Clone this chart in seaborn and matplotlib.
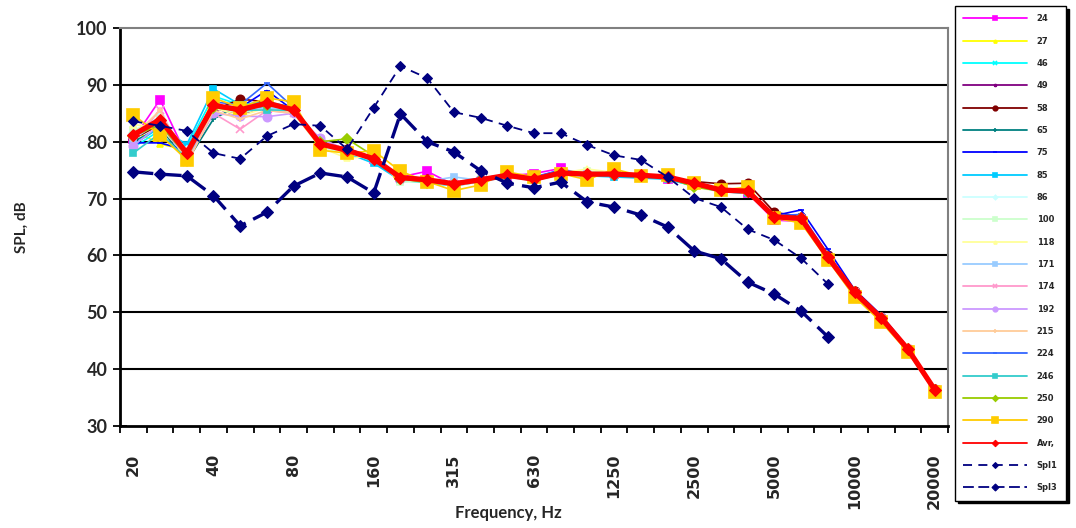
import matplotlib
matplotlib.use("Agg")
import matplotlib.pyplot as plt
import seaborn as sns
import numpy as np

freqs = ["20", "25", "31.5", "40", "50", "63", "80", "100", "125", "160", "200", "250",
         "315", "400", "500", "630", "800", "1000", "1250", "1600", "2000", "2500",
         "3150", "4000", "5000", "6300", "8000", "10000", "12500", "16000", "20000"]

s24 = [80.5, 87.4, 77.5, 86.0, 85.0, 86.0, 85.5, 79.5, 78.0, 77.0, 73.8, 74.8, 72.4, 73.0, 74.0, 74.4, 75.3, 74.0, 74.5, 74.0, 73.5, 72.5, 71.3, 71.0, 66.2, 66.0, 59.5, 53.2, 48.8, 43.4, 36.3]
s27 = [82.0, 79.6, 78.5, 86.5, 84.5, 86.5, 85.5, 79.0, 78.0, 77.5, 73.5, 73.0, 72.8, 73.5, 74.0, 73.2, 74.6, 74.5, 74.0, 74.0, 73.6, 72.4, 71.4, 71.0, 66.6, 66.4, 59.6, 53.4, 48.9, 43.6, 36.5]
s46 = [79.0, 82.0, 79.0, 88.0, 86.5, 87.0, 86.0, 80.0, 78.5, 76.5, 73.2, 72.8, 72.5, 73.0, 74.0, 73.4, 74.3, 74.0, 74.0, 73.8, 73.5, 72.2, 71.2, 71.0, 66.8, 66.6, 59.8, 53.6, 49.1, 43.5, 36.4]
s49 = [81.0, 84.0, 77.5, 86.0, 84.5, 86.5, 85.5, 79.5, 78.0, 77.0, 73.8, 73.3, 72.5, 73.3, 74.0, 73.6, 74.6, 74.2, 74.3, 74.1, 73.9, 72.6, 71.8, 71.4, 67.0, 66.7, 59.8, 53.6, 49.0, 43.6, 36.4]
s58 = [80.5, 83.0, 78.5, 85.5, 87.5, 87.0, 85.5, 79.8, 78.8, 77.2, 73.6, 73.4, 72.6, 73.4, 74.1, 73.5, 74.4, 74.4, 74.2, 74.0, 73.7, 73.0, 72.6, 72.7, 67.6, 66.8, 60.0, 53.8, 49.2, 43.6, 36.5]
s65 = [80.0, 82.5, 76.5, 84.0, 86.5, 86.0, 85.0, 80.0, 78.5, 76.8, 73.5, 73.0, 72.4, 73.2, 74.0, 73.3, 74.5, 74.2, 74.2, 74.0, 73.7, 72.5, 71.4, 71.2, 66.7, 66.4, 59.7, 53.4, 48.9, 43.5, 36.4]
s75 = [79.8, 79.8, 78.5, 86.5, 86.0, 89.0, 85.5, 79.5, 78.2, 77.0, 73.8, 73.4, 72.8, 73.6, 74.2, 73.7, 75.0, 74.5, 74.3, 74.1, 73.8, 72.8, 71.6, 71.5, 67.0, 68.0, 61.1, 54.0, 49.5, 43.8, 36.6]
s85 = [79.5, 82.5, 79.5, 89.3, 86.5, 87.0, 86.0, 79.8, 78.0, 76.2, 73.2, 72.8, 72.2, 73.0, 73.8, 73.2, 74.2, 74.0, 73.8, 73.6, 73.4, 72.2, 71.2, 71.0, 66.6, 66.3, 59.6, 53.3, 48.9, 43.4, 36.4]
s86 = [81.5, 84.5, 78.5, 86.5, 85.5, 86.5, 85.0, 79.0, 78.0, 77.0, 73.3, 73.0, 72.6, 73.2, 74.0, 73.4, 74.6, 74.8, 74.4, 74.2, 73.8, 72.6, 71.4, 71.2, 66.8, 66.5, 59.6, 53.4, 49.0, 43.5, 36.4]
s100 = [82.0, 84.0, 78.0, 86.0, 85.0, 86.0, 85.0, 79.2, 78.0, 77.2, 72.9, 73.0, 72.2, 73.0, 74.0, 73.6, 74.8, 74.8, 74.6, 74.2, 73.6, 72.4, 71.4, 71.1, 66.7, 66.5, 59.8, 53.5, 49.0, 43.5, 36.4]
s118 = [83.0, 82.5, 77.5, 86.0, 84.5, 86.0, 85.0, 79.0, 77.1, 77.5, 73.5, 73.2, 72.5, 73.4, 74.2, 73.8, 74.5, 75.2, 74.6, 74.3, 73.8, 72.0, 71.2, 71.2, 66.6, 66.3, 59.6, 53.4, 49.0, 43.5, 36.4]
s171 = [80.5, 83.5, 78.0, 86.0, 85.5, 86.0, 85.5, 79.5, 78.5, 77.0, 73.5, 73.0, 73.8, 73.2, 74.0, 73.4, 74.6, 74.3, 74.4, 74.1, 73.8, 72.6, 71.4, 71.2, 66.8, 66.5, 59.7, 53.5, 49.0, 43.5, 36.4]
s174 = [80.0, 85.6, 76.5, 85.0, 82.2, 85.5, 85.0, 80.5, 78.5, 77.0, 73.5, 73.2, 72.6, 73.3, 74.0, 73.4, 74.4, 74.2, 74.2, 74.0, 73.7, 72.6, 71.5, 71.3, 66.5, 66.4, 59.6, 53.4, 49.0, 43.5, 36.4]
s192 = [79.3, 83.0, 77.0, 85.0, 84.5, 84.4, 85.0, 80.6, 78.5, 77.0, 73.6, 73.2, 72.6, 73.4, 74.1, 73.4, 74.4, 74.3, 74.3, 74.1, 73.8, 72.7, 71.5, 71.3, 66.8, 66.6, 59.8, 53.5, 49.1, 43.5, 36.4]
s215 = [81.0, 85.5, 76.0, 85.5, 84.0, 85.5, 85.0, 79.5, 78.0, 77.0, 73.6, 73.2, 72.5, 73.3, 74.0, 73.4, 74.4, 74.2, 74.2, 74.0, 73.7, 72.6, 71.5, 71.3, 66.8, 66.5, 59.7, 53.5, 49.0, 43.5, 36.4]
s224 = [81.5, 83.0, 78.0, 87.0, 86.5, 90.3, 86.0, 79.5, 78.5, 77.0, 73.6, 73.3, 72.6, 73.4, 74.3, 73.8, 75.0, 74.3, 74.3, 74.1, 73.8, 72.7, 71.6, 71.4, 67.0, 67.2, 60.2, 53.8, 49.3, 43.7, 36.5]
s246 = [78.0, 81.5, 77.0, 86.5, 85.5, 85.6, 85.5, 79.5, 78.5, 77.0, 73.4, 73.0, 72.4, 73.2, 74.0, 73.4, 74.4, 74.2, 74.2, 74.0, 73.4, 72.2, 71.2, 71.0, 66.6, 66.4, 59.6, 53.4, 49.0, 43.5, 36.4]
s250 = [81.0, 83.0, 77.5, 86.0, 85.5, 86.5, 85.5, 80.0, 80.5, 77.5, 73.5, 72.8, 72.6, 73.2, 74.0, 73.4, 74.4, 74.2, 74.2, 74.0, 73.8, 72.0, 71.4, 71.2, 66.8, 66.5, 59.7, 53.5, 49.0, 43.5, 36.4]
s290 = [84.7, 81.2, 76.8, 87.7, 86.0, 87.7, 87.0, 78.5, 78.0, 78.4, 74.8, 73.0, 71.4, 72.4, 74.7, 73.8, 74.4, 73.3, 75.2, 74.0, 74.1, 72.7, 71.5, 72.0, 66.6, 65.7, 59.2, 52.7, 48.3, 43.0, 36.0]
avr = [81.2, 83.9, 78.0, 86.4, 85.6, 86.8, 85.6, 79.6, 78.5, 77.0, 73.7, 73.3, 72.6, 73.3, 74.1, 73.4, 74.5, 74.3, 74.3, 74.1, 73.8, 72.7, 71.5, 71.3, 66.8, 66.5, 59.7, 53.5, 49.0, 43.5, 36.4]
spl1 = [83.6, 82.8, 81.9, 78.0, 77.0, 81.0, 83.1, 82.8, 78.7, 86.0, 93.3, 91.2, 85.2, 84.2, 82.8, 81.5, 81.5, 79.4, 77.6, 76.8, 73.8, 70.1, 68.5, 64.6, 62.7, 59.5, 55.0]
spl3 = [74.7, 74.3, 74.0, 70.5, 65.2, 67.6, 72.2, 74.5, 73.8, 71.0, 84.9, 80.0, 78.2, 74.9, 72.7, 71.9, 72.9, 69.4, 68.5, 67.1, 65.0, 60.8, 59.4, 55.3, 53.2, 50.2, 45.7]

series_names = ["24", "27", "46", "49", "58", "65", "75", "85", "86", "100", "118",
                "171", "174", "192", "215", "224", "246", "250", "290"]
series_vals = [s24, s27, s46, s49, s58, s65, s75, s85, s86, s100, s118,
               s171, s174, s192, s215, s224, s246, s250, s290]
series_colors = ["#FF00FF", "#FFFF00", "#00FFFF", "#800080", "#800000", "#008080",
                 "#0000FF", "#00CCFF", "#CCFFFF", "#CCFFCC", "#FFFF99", "#99CCFF",
                 "#FF99CC", "#CC99FF", "#FFCC99", "#3366FF", "#33CCCC", "#99CC00", "#FFCC00"]
series_markers = ["s", "^", "x", "*", "o", "+", "_", "s", "D", "s", "^", "s",
                  "x", "o", "+", "_", "s", "D", "s"]
series_msize = [6, 4, 4, 4, 6, 4, 5, 5, 4, 5, 4, 4, 6, 6, 4, 5, 5, 5, 8]

sns.set_theme(style="white")
plt.rcParams["font.family"] = ["Lato", "DejaVu Sans"]

W, H = 1076, 528
fig = plt.figure(figsize=(W / 100, H / 100), dpi=100)
ax = fig.add_axes([120 / W, 1 - 426 / H, 828 / W, 398 / H])

x_all = np.arange(len(freqs))

handles = []
labels = []
for name, vals, col, mk, ms in zip(series_names, series_vals, series_colors,
                                   series_markers, series_msize):
    sns.lineplot(x=x_all, y=vals, ax=ax, color=col, marker=mk, markersize=ms,
                 markeredgecolor=col, markerfacecolor=col, markeredgewidth=1.2,
                 linewidth=1.2, zorder=3)
    handles.append(ax.lines[-1])
    labels.append(name)

sns.lineplot(x=x_all, y=avr, ax=ax, color="#FF0000", marker="D", markersize=6,
             markeredgecolor="#FF0000", linewidth=3.8, zorder=5)
handles.append(ax.lines[-1])
labels.append("Avr,")

x_spl = np.arange(len(spl1))
sns.lineplot(x=x_spl, y=spl1, ax=ax, color="#000080", marker="D", markersize=5.5,
             markeredgecolor="#000080", linewidth=1.3, zorder=6)
l1 = ax.lines[-1]
l1.set_dashes((5, 3.5))
handles.append(l1)
labels.append("Spl1")

sns.lineplot(x=x_spl, y=spl3, ax=ax, color="#000080", marker="D", markersize=6.5,
             markeredgecolor="#000080", linewidth=2.4, zorder=6)
l3 = ax.lines[-1]
l3.set_dashes((6, 2.5))
handles.append(l3)
labels.append("Spl3")

# axes styling
ax.set_xlim(-0.5, len(freqs) - 0.5)
ax.set_ylim(30, 100)
for gy in range(40, 100, 10):
    ax.axhline(gy, color="black", linewidth=1.5, zorder=1)

ax.set_yticks(range(30, 101, 10))
ax.set_yticklabels([str(v) for v in range(30, 101, 10)], fontsize=13,
                   fontweight="bold")
ax.tick_params(axis="y", direction="inout", length=10, width=1.3, color="black",
               left=True, pad=4)

major_pos = list(range(0, len(freqs), 3))
ax.set_xticks(major_pos)
ax.set_xticklabels([freqs[i] for i in major_pos], rotation=90, fontsize=11.5,
                   fontweight="bold", family="DejaVu Sans", va="top")
ax.tick_params(axis="x", which="major", length=0, pad=20)
ax.set_xticks(np.arange(-0.5, len(freqs), 1.0), minor=True)
ax.tick_params(axis="x", which="minor", direction="out", length=5, width=1.3,
               color="black", bottom=True)

for side in ["left", "bottom"]:
    ax.spines[side].set_color("black")
    ax.spines[side].set_linewidth(2)
for side in ["top", "right"]:
    ax.spines[side].set_color("#808080")
    ax.spines[side].set_linewidth(1.5)

ax.set_xlabel("Frequency, Hz", fontsize=12, fontweight="bold")
ax.set_ylabel("SPL, dB", fontsize=11, fontweight="bold")
ax.xaxis.set_label_coords((508 - 120) / 828, -(505 - 426) / 398)
ax.yaxis.set_label_coords(-(120 - 29) / 828, 0.5)

leg = fig.legend(handles, labels, loc="upper left",
                 bbox_to_anchor=(955 / W, 1 - 6 / H), bbox_transform=fig.transFigure,
                 prop={"family": "DejaVu Sans", "weight": "bold", "size": 6},
                 numpoints=1, handlelength=7.6, handletextpad=1.2,
                 labelspacing=1.6, borderpad=1.0, borderaxespad=0,
                 frameon=True, fancybox=False, shadow={"color": "black", "alpha": 1})
leg.get_frame().set_edgecolor("black")
leg.get_frame().set_linewidth(1.0)
leg.get_frame().set_facecolor("white")
for lh in leg.get_lines():
    lh.set_markersize(lh.get_markersize() * 0.55)
    lh.set_linewidth(1.3)

fig.savefig("out.png", dpi=100, facecolor="white")
